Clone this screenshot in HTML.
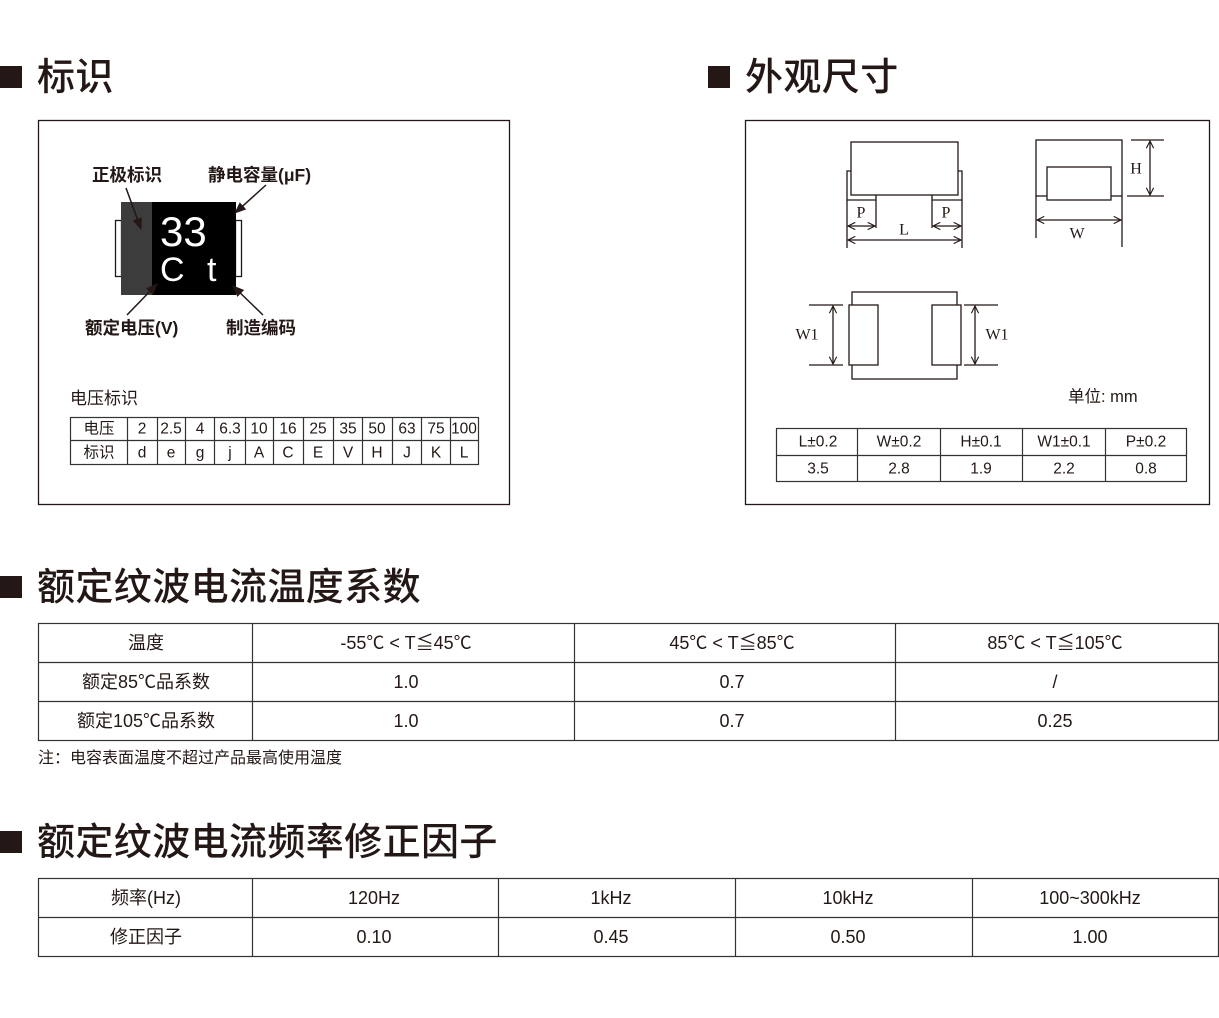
<!DOCTYPE html>
<html><head><meta charset="utf-8"><style>
html,body{margin:0;padding:0;background:#fff;}
svg{display:block;}
text{font-family:"Liberation Sans","Noto Sans CJK SC",sans-serif;fill:#231815;}
.h{font-size:38px;font-weight:500;letter-spacing:0.4px;}
.t{font-size:18px;text-anchor:middle;dominant-baseline:central;}
.s{font-size:15.5px;text-anchor:middle;dominant-baseline:central;}
.b{font-size:17.5px;font-weight:bold;}
.ser{font-family:"Liberation Serif","Noto Serif CJK SC",serif;font-size:16px;text-anchor:middle;dominant-baseline:central;}
.ln{stroke:#231815;stroke-width:1.3;fill:none;}
.tb{stroke:#333;stroke-width:1.2;fill:none;}
</style></head><body>
<svg width="1219" height="1018" viewBox="0 0 1219 1018" xmlns="http://www.w3.org/2000/svg">
<defs>
<marker id="a" viewBox="0 0 10 10" refX="9" refY="5" markerWidth="7" markerHeight="7" orient="auto-start-reverse"><path d="M1,1 L9,5 L1,9" fill="none" stroke="#231815" stroke-width="1.2"/></marker>
<marker id="f" viewBox="0 0 10 10" refX="9" refY="5" markerWidth="8" markerHeight="8" orient="auto"><path d="M0,1 L10,5 L0,9 z" fill="#231815"/></marker>
</defs>

<rect x="0" y="66" width="22" height="22" fill="#231815"/>
<text class="h" x="37" y="90">标识</text>
<rect x="708" y="66" width="22" height="22" fill="#231815"/>
<text class="h" x="745" y="90">外观尺寸</text>
<rect x="0" y="576" width="22" height="22" fill="#231815"/>
<text class="h" x="37" y="600">额定纹波电流温度系数</text>
<rect x="0" y="831" width="22" height="22" fill="#231815"/>
<text class="h" x="37" y="855">额定纹波电流频率修正因子</text>

<rect x="38.5" y="120.5" width="471" height="384" class="ln" stroke-width="1"/>
<rect x="115.5" y="220.5" width="6" height="56" class="ln" stroke-width="1.5"/>
<rect x="235.5" y="220.5" width="6" height="56" class="ln" stroke-width="1.5"/>
<rect x="121" y="202" width="31" height="93" fill="#3c3c3c"/>
<rect x="152" y="202" width="84" height="93" fill="#000"/>
<text x="160" y="246" style="font-size:42px;fill:#fff;font-weight:300">33</text>
<text x="160" y="281" style="font-size:34px;fill:#fff;font-weight:300">C</text>
<text x="207" y="281" style="font-size:34px;fill:#fff;font-weight:300">t</text>
<text class="b" x="92" y="181">正极标识</text>
<text class="b" x="208" y="181">静电容量(μF)</text>
<text class="b" x="85" y="334">额定电压(V)</text>
<text class="b" x="226" y="334">制造编码</text>
<line x1="126" y1="188" x2="141" y2="229" stroke="#231815" stroke-width="1.5" marker-end="url(#f)"/>
<line x1="266" y1="185" x2="235" y2="213" stroke="#231815" stroke-width="1.5" marker-end="url(#f)"/>
<line x1="127" y1="315" x2="157" y2="284" stroke="#231815" stroke-width="1.5" marker-end="url(#f)"/>
<line x1="263" y1="315" x2="233" y2="286" stroke="#231815" stroke-width="1.5" marker-end="url(#f)"/>

<text x="70" y="404" style="font-size:17px">电压标识</text>
<g class="tb">
<rect x="70.5" y="417.5" width="408" height="47"/>
<line x1="70" y1="440.5" x2="478" y2="440.5"/>
<line x1="127.5" y1="417" x2="127.5" y2="465"/><line x1="157.5" y1="417" x2="157.5" y2="465"/><line x1="185.5" y1="417" x2="185.5" y2="465"/><line x1="214.5" y1="417" x2="214.5" y2="465"/><line x1="245.5" y1="417" x2="245.5" y2="465"/><line x1="273.5" y1="417" x2="273.5" y2="465"/><line x1="303.5" y1="417" x2="303.5" y2="465"/><line x1="333.5" y1="417" x2="333.5" y2="465"/><line x1="362.5" y1="417" x2="362.5" y2="465"/><line x1="392.5" y1="417" x2="392.5" y2="465"/><line x1="421.5" y1="417" x2="421.5" y2="465"/><line x1="450.5" y1="417" x2="450.5" y2="465"/>
</g>
<g class="s">
<text x="99" y="429">电压</text><text x="142" y="429">2</text><text x="171" y="429">2.5</text><text x="200" y="429">4</text><text x="230" y="429">6.3</text><text x="259" y="429">10</text><text x="288" y="429">16</text><text x="318" y="429">25</text><text x="348" y="429">35</text><text x="377" y="429">50</text><text x="407" y="429">63</text><text x="436" y="429">75</text><text x="464" y="429">100</text>
<text x="99" y="453">标识</text><text x="142" y="453">d</text><text x="171" y="453">e</text><text x="200" y="453">g</text><text x="230" y="453">j</text><text x="259" y="453">A</text><text x="288" y="453">C</text><text x="318" y="453">E</text><text x="348" y="453">V</text><text x="377" y="453">H</text><text x="407" y="453">J</text><text x="436" y="453">K</text><text x="464" y="453">L</text>
</g>

<rect x="745.5" y="120.5" width="464" height="384" class="ln" stroke-width="1"/>
<g class="ln" stroke-width="2.2">
<rect x="851" y="142" width="107" height="53"/>
<path d="M851,171 H847 V200 H876 V195"/>
<path d="M958,171 H962 V200 H932 V195"/>
<rect x="1036" y="140" width="86" height="56"/>
<rect x="1047" y="167" width="64" height="33" fill="#fff"/>
<rect x="852" y="292" width="105" height="87"/>
<rect x="849" y="305" width="29" height="60" fill="#fff"/>
<rect x="932" y="305" width="29" height="60" fill="#fff"/>
</g>
<g class="ln">
<line x1="876" y1="200" x2="876" y2="228"/><line x1="932" y1="200" x2="932" y2="228"/>
<line x1="847" y1="200" x2="847" y2="248"/><line x1="962" y1="200" x2="962" y2="248"/>
<line x1="848" y1="226" x2="875" y2="226" marker-start="url(#a)" marker-end="url(#a)"/>
<line x1="933" y1="226" x2="961" y2="226" marker-start="url(#a)" marker-end="url(#a)"/>
<line x1="848" y1="240" x2="961" y2="240" marker-start="url(#a)" marker-end="url(#a)"/>
<line x1="1131" y1="140" x2="1164" y2="140"/><line x1="1127" y1="196" x2="1164" y2="196"/>
<line x1="1150" y1="141" x2="1150" y2="195" marker-start="url(#a)" marker-end="url(#a)"/>
<line x1="1036" y1="196" x2="1036" y2="238"/><line x1="1122" y1="196" x2="1122" y2="247"/>
<line x1="1037" y1="220" x2="1121" y2="220" marker-start="url(#a)" marker-end="url(#a)"/>
<line x1="809" y1="305" x2="843" y2="305"/><line x1="809" y1="365" x2="843" y2="365"/>
<line x1="833" y1="306" x2="833" y2="364" marker-start="url(#a)" marker-end="url(#a)"/>
<line x1="964" y1="305" x2="998" y2="305"/><line x1="964" y1="365" x2="998" y2="365"/>
<line x1="975" y1="306" x2="975" y2="364" marker-start="url(#a)" marker-end="url(#a)"/>
</g>
<text class="ser" x="861" y="213">P</text><text class="ser" x="946" y="213">P</text>
<text class="ser" x="904" y="230">L</text>
<text class="ser" x="1136" y="169">H</text>
<text class="ser" x="1077" y="234">W</text>
<text class="ser" x="807" y="335">W1</text>
<text class="ser" x="997" y="335">W1</text>
<text x="1068" y="402" style="font-size:16.5px">单位: mm</text>
<g class="tb">
<rect x="776.5" y="428.5" width="410" height="53"/>
<line x1="776" y1="455.5" x2="1187" y2="455.5"/>
<line x1="857.5" y1="428" x2="857.5" y2="482"/><line x1="940.5" y1="428" x2="940.5" y2="482"/><line x1="1022.5" y1="428" x2="1022.5" y2="482"/><line x1="1105.5" y1="428" x2="1105.5" y2="482"/>
</g>
<g class="s">
<text x="818" y="442">L±0.2</text><text x="899" y="442">W±0.2</text><text x="981" y="442">H±0.1</text><text x="1064" y="442">W1±0.1</text><text x="1146" y="442">P±0.2</text>
<text x="818" y="469">3.5</text><text x="899" y="469">2.8</text><text x="981" y="469">1.9</text><text x="1064" y="469">2.2</text><text x="1146" y="469">0.8</text>
</g>

<g class="tb">
<rect x="38.5" y="623.5" width="1180" height="117"/>
<line x1="38" y1="662.5" x2="1219" y2="662.5"/><line x1="38" y1="701.5" x2="1219" y2="701.5"/>
<line x1="252.5" y1="623" x2="252.5" y2="741"/><line x1="574.5" y1="623" x2="574.5" y2="741"/><line x1="895.5" y1="623" x2="895.5" y2="741"/>
</g>
<g class="t">
<text x="406" y="643">-55℃ &lt; T≦45℃</text><text x="732" y="643">45℃ &lt; T≦85℃</text><text x="1055" y="643">85℃ &lt; T≦105℃</text>
<text x="146" y="643">温度</text>
<text x="146" y="682">额定85℃品系数</text><text x="406" y="682">1.0</text><text x="732" y="682">0.7</text><text x="1055" y="682">/</text>
<text x="146" y="721">额定105℃品系数</text><text x="406" y="721">1.0</text><text x="732" y="721">0.7</text><text x="1055" y="721">0.25</text>
</g>
<text x="38" y="763" style="font-size:16px">注：电容表面温度不超过产品最高使用温度</text>

<g class="tb">
<rect x="38.5" y="878.5" width="1180" height="78"/>
<line x1="38" y1="917.5" x2="1219" y2="917.5"/>
<line x1="252.5" y1="878" x2="252.5" y2="957"/><line x1="498.5" y1="878" x2="498.5" y2="957"/><line x1="735.5" y1="878" x2="735.5" y2="957"/><line x1="972.5" y1="878" x2="972.5" y2="957"/>
</g>
<g class="t">
<text x="146" y="898">频率(Hz)</text><text x="374" y="898">120Hz</text><text x="611" y="898">1kHz</text><text x="848" y="898">10kHz</text><text x="1090" y="898">100~300kHz</text>
<text x="146" y="937">修正因子</text><text x="374" y="937">0.10</text><text x="611" y="937">0.45</text><text x="848" y="937">0.50</text><text x="1090" y="937">1.00</text>
</g>
</svg>
</body></html>
